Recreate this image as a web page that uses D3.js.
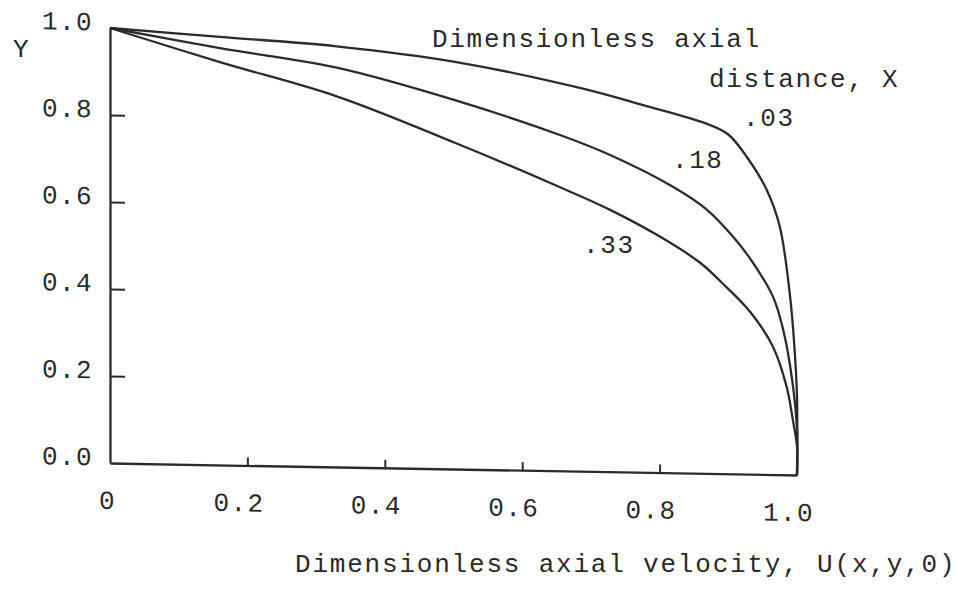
<!DOCTYPE html>
<html>
<head>
<meta charset="utf-8">
<script src="https://cdn.jsdelivr.net/npm/d3@7/dist/d3.min.js"></script>
<style>
  html, body { margin: 0; padding: 0; background: #ffffff; }
  svg { display: block; }
  text { font-family: "Liberation Mono", "DejaVu Sans Mono", monospace; fill: #2a2a2a; }
</style>
</head>
<body>
<svg id="chart" width="958" height="592"></svg>
<script>
// ---- data ----
const uTicks = [0, 0.2, 0.4, 0.6, 0.8, 1.0];
const uTickLabels = ["0", "0.2", "0.4", "0.6", "0.8", "1.0"];
const yTicks = [0, 0.2, 0.4, 0.6, 0.8, 1.0];
const yTickLabels = ["0.0", "0.2", "0.4", "0.6", "0.8", "1.0"];

const seriesNames = [".03", ".18", ".33"];
// X = .03
const u03 = [0, 0.160, 0.330, 0.502, 0.684, 0.776, 0.870, 0.900, 0.927, 0.956, 0.975, 0.990, 0.996, 1.0, 1.0];
const y03 = [1.0, 0.984, 0.967, 0.936, 0.881, 0.844, 0.803, 0.780, 0.729, 0.654, 0.570, 0.409, 0.300, 0.180, 0.0];
// X = .18
const u18 = [0, 0.160, 0.330, 0.502, 0.655, 0.728, 0.820, 0.869, 0.907, 0.936, 0.965, 0.980, 0.993, 1.0, 1.0];
const y18 = [1.0, 0.958, 0.918, 0.848, 0.772, 0.728, 0.657, 0.606, 0.545, 0.486, 0.409, 0.333, 0.218, 0.104, 0.0];
// X = .33
const u33 = [0, 0.160, 0.330, 0.502, 0.655, 0.728, 0.801, 0.859, 0.890, 0.932, 0.965, 0.985, 0.994, 1.0, 1.0];
const y33 = [1.0, 0.926, 0.852, 0.750, 0.652, 0.602, 0.542, 0.484, 0.440, 0.373, 0.294, 0.202, 0.126, 0.065, 0.0];

const seriesU = [u03, u18, u33];
const seriesY = [y03, y18, y33];

// annotation anchors, in data units
const curveLabelU = [0.9214, 0.8180, 0.6885];
const curveLabelY = [0.7747, 0.6782, 0.4828];
const legendTitle = ["Dimensionless axial", "distance, X"];
const legendTitleU = [0.4687, 0.8719];
const legendTitleY = [0.9563, 0.8644];

const xTitle = "Dimensionless axial velocity, U(x,y,0)";
const yTitle = "Y";

// ---- drawing ----
const svg = d3.select("#chart");
const ink = "#2b2b2b";
const x = d3.scaleLinear().domain([0, 1]).range([110, 797]);
const y = d3.scaleLinear().domain([0, 1]).range([463, 28]);

// scanned page is slightly sheared: horizontal lines drop to the right
const plot = svg.append("g")
  .attr("transform", `translate(${x(0)},${y(0)}) skewY(1) translate(${-x(0)},${-y(0)})`);

// x axis
const xAxis = d3.axisBottom(x)
  .tickValues(uTicks)
  .tickFormat((d, i) => uTickLabels[i])
  .tickSizeInner(-8)
  .tickSizeOuter(0);
const gx = plot.append("g").attr("transform", `translate(0,${y(0)})`).call(xAxis);
gx.attr("font-family", null).attr("font-size", null);
gx.select(".domain").attr("stroke", ink).attr("stroke-width", 2.3);
gx.selectAll(".tick line").attr("stroke", ink).attr("stroke-width", 2)
  .filter(d => d === 0 || d === 1).remove();
gx.selectAll(".tick text")
  .attr("y", 46).attr("dy", 0).attr("dx", (d) => d === 0 ? -3 : -9)
  .style("font-size", "26px").style("letter-spacing", "1.4px")
  .attr("fill", "#2a2a2a");

// y axis
const yAxis = d3.axisLeft(y)
  .tickValues(yTicks)
  .tickFormat((d, i) => yTickLabels[i])
  .tickSizeInner(-15)
  .tickSizeOuter(0)
  .tickPadding(17);
const gy = plot.append("g").attr("transform", `translate(${x(0)},0)`).call(yAxis);
gy.attr("font-family", null).attr("font-size", null);
gy.select(".domain").attr("stroke", ink).attr("stroke-width", 2.3);
gy.selectAll(".tick line").attr("stroke", ink).attr("stroke-width", 2)
  .filter(d => d === 0 || d === 1).remove();
gy.selectAll(".tick text")
  .attr("dy", 2)
  .style("font-size", "26px").style("letter-spacing", "1.4px")
  .attr("fill", "#2a2a2a");

// curves
const line = d3.line()
  .x(d => x(d[0]))
  .y(d => y(d[1]))
  .curve(d3.curveCatmullRom.alpha(0.5));
seriesNames.forEach((name, k) => {
  const pts = seriesU[k].map((u, i) => [u, seriesY[k][i]]);
  plot.append("path")
    .datum(pts)
    .attr("d", line)
    .attr("fill", "none")
    .attr("stroke", ink)
    .attr("stroke-width", 2.3)
    .attr("stroke-linejoin", "round");
});

// annotations (unsheared, same scales)
const ann = svg.append("g");
seriesNames.forEach((name, k) => {
  ann.append("text")
    .attr("x", x(curveLabelU[k]))
    .attr("y", y(curveLabelY[k]))
    .style("font-size", "26px").style("letter-spacing", "1.6px")
    .text(name);
});
legendTitle.forEach((t, k) => {
  ann.append("text")
    .attr("x", x(legendTitleU[k]))
    .attr("y", y(legendTitleY[k]))
    .style("font-size", "26px").style("letter-spacing", "1.7px")
    .text(t);
});

// axis titles
svg.append("text")
  .attr("x", 295).attr("y", 572)
  .style("font-size", "26px").style("letter-spacing", "1.8px")
  .text(xTitle);
svg.append("text")
  .attr("x", 13).attr("y", 57)
  .style("font-size", "26px")
  .text(yTitle);
</script>
</body>
</html>
